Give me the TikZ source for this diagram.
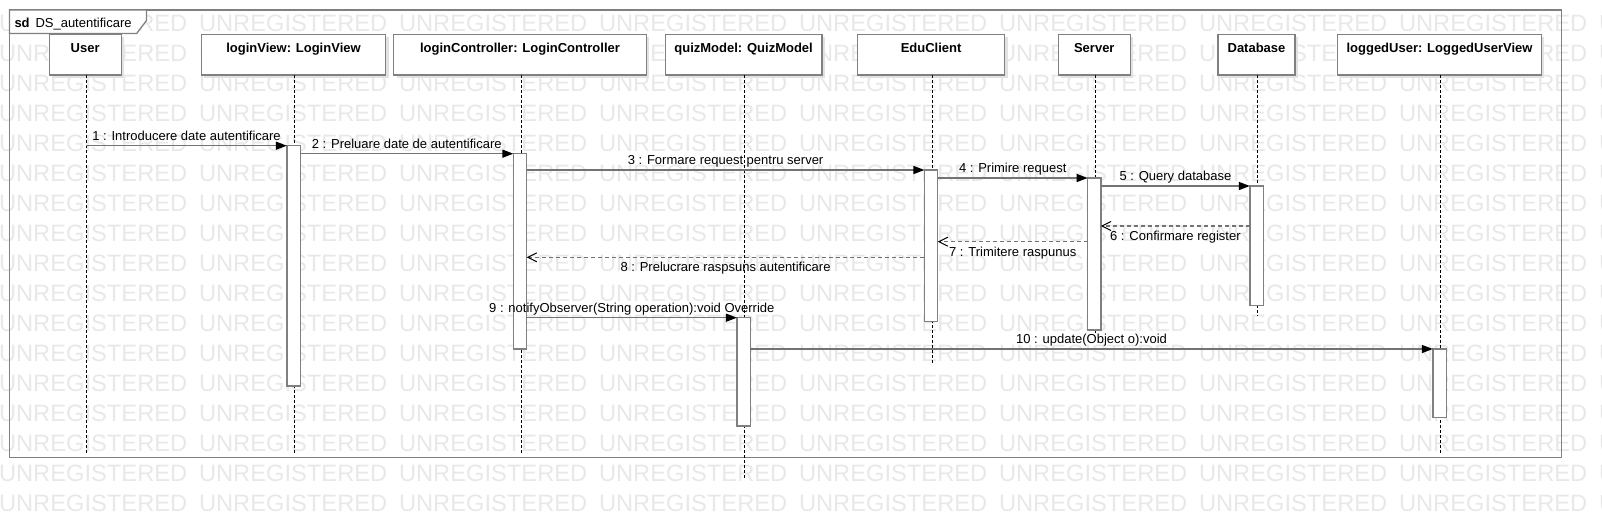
\documentclass[tikz,border=0pt]{standalone}
\usepackage{fontspec}
\setmainfont{Liberation Sans}
\usetikzlibrary{arrows.meta,calc,shadows}
\definecolor{wm}{RGB}{232,232,232}
\definecolor{bd}{RGB}{128,128,128}
\definecolor{ln}{RGB}{115,115,115}
\definecolor{shc}{RGB}{226,226,226}
\begin{document}
\begin{tikzpicture}[x=1pt,y=-1pt,
  every node/.style={inner sep=0pt,outer sep=0pt,font=\fontsize{13}{15.6}\selectfont},
  wmark/.style={text=wm,font=\fontsize{23.7}{28}\selectfont,anchor=base west},
  head/.style={draw=bd,line width=1.3pt,fill=white,minimum height=40.7pt,anchor=north,
     drop shadow={shadow xshift=3pt,shadow yshift=-3pt,fill=shc,opacity=1}},
  htxt/.style={anchor=base,font=\fontsize{13}{15.6}\selectfont\bfseries},
  life/.style={draw=black,line width=0.9pt,dash pattern=on 3pt off 2pt},
  act/.style={draw=bd,line width=1.3pt,fill=white,minimum width=13.3pt,anchor=north},
  msg/.style={draw=ln,line width=1.3pt,-{Triangle[length=11pt,width=8pt,black]}},
  ret/.style={draw=ln,line width=1.3pt,dash pattern=on 4pt off 3pt,-{Straight Barb[length=9pt,width=9pt,line width=1pt,black]}},
  lbl/.style={anchor=base},
  framebox/.style={draw=bd,line width=1.3pt,anchor=north west}
]
\useasboundingbox (0,0) rectangle (1602,522);
% watermark
\foreach \r in {0,...,16}{
  \foreach \c in {0,...,8}{
    \node[wmark] (wm-\r-\c) at ({-1+200*\c},{31+30*\r}) {UNREGISTERED};
  }
}
% frame
\node[framebox,minimum width=1552.2pt,minimum height=447.7pt] (frame) at (9.5,10) {};
\draw[bd,line width=1.3pt,fill=white] (frame.north west) -- ++(136.9,0) -- ++(0,10.7) -- ++(-9.7,12.7) -- ++(-127.2,0) -- cycle;
\node[anchor=base west,font=\fontsize{13}{15.6}\selectfont\bfseries] (sd) at (14.5,27.1) {sd};
\node[anchor=base west] (sdname) at (35.5,27.1) {DS\_autentificare};

% heads
\node[head,minimum width=72pt] (user) at (85.2,34.4) {};
\node[htxt] (user-t) at ($(user.north)+(0,18.5)$) {User};
\node[head,minimum width=184.3pt] (lview) at (293.5,34.4) {};
\node[htxt] (lview-t) at ($(lview.north)+(0,18.5)$) {loginView: LoginView};
\node[head,minimum width=252.8pt] (lctrl) at (520,34.4) {};
\node[htxt] (lctrl-t) at ($(lctrl.north)+(0,18.5)$) {loginController: LoginController};
\node[head,minimum width=156.7pt] (qmodel) at (743.6,34.4) {};
\node[htxt] (qmodel-t) at ($(qmodel.north)+(0,18.5)$) {quizModel: QuizModel};
\node[head,minimum width=147.3pt] (edu) at (931.1,34.4) {};
\node[htxt] (edu-t) at ($(edu.north)+(0,18.5)$) {EduClient};
\node[head,minimum width=71.7pt] (server) at (1094.3,34.4) {};
\node[htxt] (server-t) at ($(server.north)+(0,18.5)$) {Server};
\node[head,minimum width=77pt] (db) at (1256.5,34.4) {};
\node[htxt] (db-t) at ($(db.north)+(0,18.5)$) {Database};
\node[head,minimum width=203.9pt] (logged) at (1439.5,34.4) {};
\node[htxt] (logged-t) at ($(logged.north)+(0,18.5)$) {loggedUser: LoggedUserView};

% lifelines
\coordinate (user-e) at (86.2,454.3);
\coordinate (lview-e) at (294.5,454.3);
\coordinate (lctrl-e) at (521,454.3);
\coordinate (qmodel-e) at (744.6,478.3);
\coordinate (edu-e) at (932.1,364);
\coordinate (server-e) at (1095.3,333);
\coordinate (db-e) at (1257.5,316);
\coordinate (logged-e) at (1440.5,454.3);
\draw[life] ([xshift=1pt]user.south) -- (user-e);
\draw[life] ([xshift=1pt]lview.south) -- (lview-e);
\draw[life] ([xshift=1pt]lctrl.south) -- (lctrl-e);
\draw[life] ([xshift=1pt]qmodel.south) -- (qmodel-e);
\draw[life] ([xshift=1pt]edu.south) -- (edu-e);
\draw[life] ([xshift=1pt]server.south) -- (server-e);
\draw[life] ([xshift=1pt]db.south) -- (db-e);
\draw[life] ([xshift=1pt]logged.south) -- (logged-e);

% activations
\node[act,minimum height=240.3pt] (a1) at (293.5,145.7) {};
\node[act,minimum height=195.3pt] (a2) at (520,153.7) {};
\node[act,minimum height=151.7pt] (a3) at (931.1,170) {};
\node[act,minimum height=152pt] (a4) at (1094.3,178) {};
\node[act,minimum height=119.7pt] (a5) at (1256.5,186) {};
\node[act,minimum height=108.3pt] (a6) at (743.6,317.7) {};
\node[act,minimum height=68.7pt] (a7) at (1439.5,349) {};

% messages
\coordinate (u1) at (86.2,145.7);
\draw[msg] (u1) -- (a1.north west);
\node[lbl] (l1) at ($(u1)!0.5!(a1.north west)+(0,-5.5)$) {1 : Introducere date autentificare};

\draw[msg] (a1.east |- a2.north) -- (a2.north west);
\node[lbl] (l2) at ($(a1.east |- a2.north)!0.5!(a2.north west)+(0,-5.5)$) {2 : Preluare date de autentificare};

\draw[msg] (a2.east |- a3.north) -- (a3.north west);
\node[lbl] (l3) at ($(a2.east |- a3.north)!0.5!(a3.north west)+(0,-5.5)$) {3 : Formare request pentru server};

\draw[msg] (a3.east |- a4.north) -- (a4.north west);
\node[lbl] (l4) at ($(a3.east |- a4.north)!0.5!(a4.north west)+(0,-5.5)$) {4 : Primire request};

\draw[msg] (a4.east |- a5.north) -- (a5.north west);
\node[lbl] (l5) at ($(a4.east |- a5.north)!0.5!(a5.north west)+(0,-5.5)$) {5 : Query database};

\coordinate (y6) at (0,226);
\draw[ret] (a5.west |- y6) -- (a4.east |- y6);
\node[lbl] (l6) at ($(a5.west |- y6)!0.5!(a4.east |- y6)+(0,14.5)$) {6 : Confirmare register};

\coordinate (y7) at (0,241.7);
\draw[ret] (a4.west |- y7) -- (a3.east |- y7);
\node[lbl] (l7) at ($(a4.west |- y7)!0.5!(a3.east |- y7)+(0,14.5)$) {7 : Trimitere raspunus};

\coordinate (y8) at (0,257.3);
\draw[ret] (a3.west |- y8) -- (a2.east |- y8);
\node[lbl] (l8) at ($(a3.west |- y8)!0.5!(a2.east |- y8)+(0,14.5)$) {8 : Prelucrare raspsuns autentificare};

\draw[msg] (a2.east |- a6.north) -- (a6.north west);
\node[lbl] (l9) at ($(a2.east |- a6.north)!0.5!(a6.north west)+(0,-5.5)$) {9 : notifyObserver(String operation):void Override};

\draw[msg] (a6.east |- a7.north) -- (a7.north west);
\node[lbl] (l10) at ($(a6.east |- a7.north)!0.5!(a7.north west)+(0,-5.5)$) {10 : update(Object o):void};
\end{tikzpicture}
\end{document}
